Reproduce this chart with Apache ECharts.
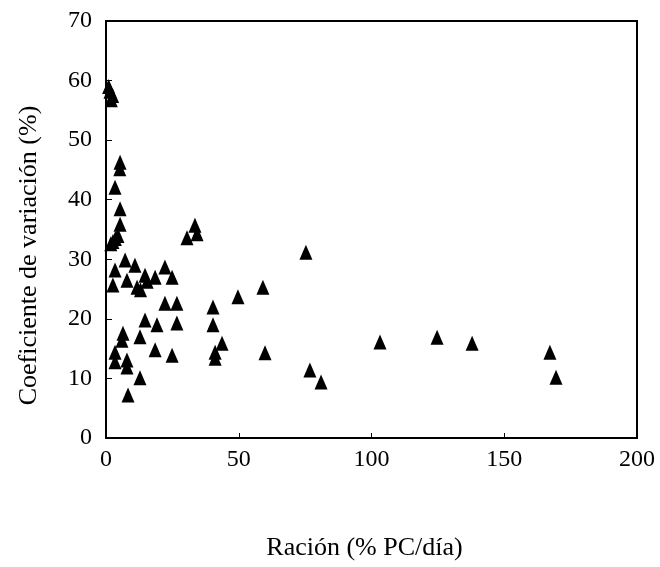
<!DOCTYPE html>
<html>
<head>
<meta charset="utf-8">
<script src="https://cdn.jsdelivr.net/npm/echarts@6/dist/echarts.min.js"></script>
<style>
  html, body { margin: 0; padding: 0; background: #fff; }
  #chart { width: 660px; height: 567px; }
</style>
</head>
<body>
<div id="chart"></div>
<script>
// Ración (% PC/día) vs coeficiente de variación (%)
const racion = [
  1, 1.5, 2.5, 2, 5.3, 5.2, 3.4, 5.3, 5.3, 4.5, 2.6, 3.5, 1.8,
  7.2, 10.9, 3.4, 7.9, 14.7, 18.5, 22.2, 24.9, 2.6, 11.7, 13, 15.5,
  22.2, 26.7, 14.7, 19.2, 26.7, 6.4, 12.8, 6, 3.4, 18.5, 24.9,
  3.4, 7.9, 7.9, 12.8, 8.3, 33.5, 34.3, 30.5, 59.1, 49.7, 40.3,
  40.3, 43.7, 41.1, 41.1, 59.9, 75.3, 103.2, 76.8, 81,
  124.7, 137.9, 167.2, 169.5
];
const coefVar = [
  59, 58.2, 57.5, 56.8, 46.3, 45.2, 42.1, 38.5, 35.9, 34, 33, 33.5, 32.6,
  29.9, 29, 28.2, 26.5, 27.3, 27, 28.7, 27, 25.7, 25.3, 24.9, 26.3,
  22.6, 22.6, 19.8, 19, 19.3, 17.6, 17, 16.4, 14.4, 14.8, 13.9,
  12.8, 13.1, 11.9, 10.1, 7.2, 35.7, 34.3, 33.6, 25.3, 23.7, 22,
  19, 15.9, 14.4, 13.4, 14.3, 31.2, 16.1, 11.4, 9.4,
  16.9, 15.9, 14.4, 10.2
];
const xTicks = [0, 50, 100, 150, 200];
const yTicks = [0, 10, 20, 30, 40, 50, 60, 70];

const font = 'Liberation Serif';
const chart = echarts.init(document.getElementById('chart'));

chart.setOption({
  animation: false,
  grid: {
    left: 106,
    right: 23,
    top: 21,
    bottom: 129,
    containLabel: false,
    outerBoundsMode: 'none',
    show: true,
    borderColor: '#000',
    borderWidth: 2,
  },
  xAxis: {
    type: 'value',
    min: xTicks[0],
    max: xTicks[xTicks.length - 1],
    interval: 50,
    name: 'Ración (% PC/día)',
    nameLocation: 'middle',
    nameGap: 97,
    nameTextStyle: { color: '#000', fontFamily: font, fontSize: 26, padding: [0, 14, 0, 0] },
    axisLine: { lineStyle: { color: '#000', width: 2 } },
    axisTick: { inside: true, length: 5, lineStyle: { color: '#000', width: 1 } },
    axisLabel: { color: '#000', fontFamily: font, fontSize: 24, margin: 10 },
    splitLine: { show: false },
  },
  yAxis: {
    type: 'value',
    min: yTicks[0],
    max: yTicks[yTicks.length - 1],
    interval: 10,
    name: 'Coeficiente de variación (%)',
    nameLocation: 'middle',
    nameGap: 64,
    nameTextStyle: { color: '#000', fontFamily: font, fontSize: 26, padding: [0, 52, 0, 0] },
    axisLine: { show: true, lineStyle: { color: '#000', width: 2 } },
    axisTick: { show: true, inside: true, length: 6, lineStyle: { color: '#000', width: 1 } },
    axisLabel: { color: '#000', fontFamily: font, fontSize: 24, margin: 14 },
    splitLine: { show: false },
  },
  series: [
    {
      type: 'scatter',
      symbol: 'triangle',
      symbolSize: [13, 15],
      itemStyle: { color: '#000', opacity: 1 },
      data: racion.map((x, i) => [x, coefVar[i]]),
    },
  ],
});
</script>
</body>
</html>
